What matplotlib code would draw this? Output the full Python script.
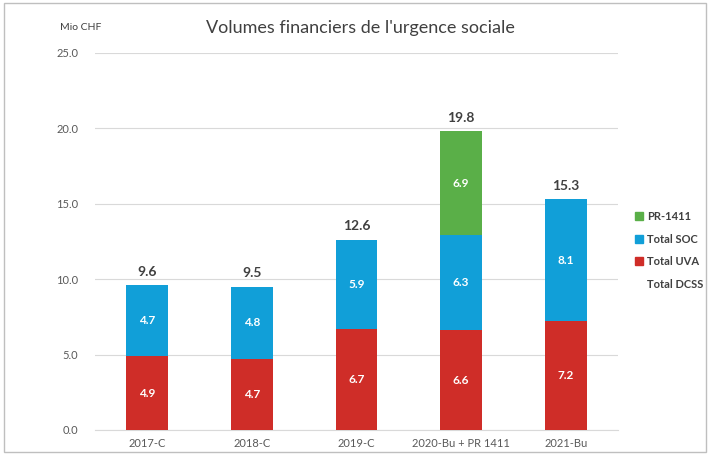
import matplotlib as mpl
import matplotlib.pyplot as plt
import numpy as np
from matplotlib.patches import Rectangle
from matplotlib.lines import Line2D

plt.rcParams['font.family'] = ['Lato', 'DejaVu Sans']

categories = ["2017-C", "2018-C", "2019-C", "2020-Bu + PR 1411", "2021-Bu"]
uva = [4.9, 4.7, 6.7, 6.6, 7.2]
soc = [4.7, 4.8, 5.9, 6.3, 8.1]
pr1411 = [0, 0, 0, 6.9, 0]
totals = [9.6, 9.5, 12.6, 19.8, 15.3]
yticks = [0, 5, 10, 15, 20, 25]

c_uva = "#cf2d28"
c_soc = "#119fd8"
c_pr = "#5aaf48"
txt = "#404040"

fig = plt.figure(figsize=(7.1, 4.55), dpi=100)
fig.patch.set_facecolor("white")
fig.patches.append(Rectangle((4 / 710, 3 / 455), 702 / 710, 449 / 455, transform=fig.transFigure,
                             fill=False, edgecolor="#bfbfbf", linewidth=1))
ax = fig.add_axes([95 / 710, 25 / 455, 523 / 710, 377 / 455])

x = np.arange(len(categories))
w = 0.4
ax.bar(x, uva, w, color=c_uva, zorder=3)
ax.bar(x, soc, w, bottom=uva, color=c_soc, zorder=3)
bottom2 = np.array(uva) + np.array(soc)
ax.bar(x, pr1411, w, bottom=bottom2, color=c_pr, zorder=3)

for i in range(len(x)):
    ax.text(x[i], uva[i] / 2, f"{uva[i]:.1f}", ha="center", va="center", color="white",
            fontsize=8.5, fontweight="bold", zorder=4)
    ax.text(x[i], uva[i] + soc[i] / 2, f"{soc[i]:.1f}", ha="center", va="center", color="white",
            fontsize=8.5, fontweight="bold", zorder=4)
    if pr1411[i] > 0:
        ax.text(x[i], bottom2[i] + pr1411[i] / 2, f"{pr1411[i]:.1f}", ha="center", va="center",
                color="white", fontsize=8.5, fontweight="bold", zorder=4)
    ax.text(x[i], totals[i] + 0.5, f"{totals[i]:.1f}", ha="center", va="bottom", color=txt,
            fontsize=10, fontweight="bold")

ax.set_xlim(-0.5, len(x) - 0.5)
ax.set_ylim(0, 25)
ax.set_yticks(yticks)
ax.set_yticklabels([f"{v:.1f}" for v in yticks])
ax.set_xticks(x)
ax.set_xticklabels(categories)
ax.tick_params(axis="both", length=0, colors="#595959", labelsize=8)
ax.tick_params(axis="y", pad=12)
ax.tick_params(axis="x", pad=6)
ax.grid(axis="y", color="#d9d9d9", linewidth=0.8, zorder=0)
for s in ["top", "right", "left"]:
    ax.spines[s].set_visible(False)
ax.spines["bottom"].set_color("#d9d9d9")

fig.text(360 / 710, 1 - 28 / 455, "Volumes financiers de l'urgence sociale", ha="center", va="center",
         fontsize=13, color=txt)
fig.text(60 / 710, 1 - 28 / 455, "Mio CHF", ha="left", va="center", fontsize=7.5, color="#404040")

handles = [Line2D([], [], marker="s", color=c, linestyle="none", markersize=6) for c in [c_pr, c_soc, c_uva]]
handles.append(Line2D([], [], linestyle="none"))
leg = fig.legend(handles, ["PR-1411", "Total SOC", "Total UVA", "Total DCSS"], loc="upper left",
                 bbox_to_anchor=(625 / 710, 1 - 201 / 455), frameon=False, handlelength=0.8,
                 handletextpad=0.3, labelspacing=1.05, prop={"size": 8, "weight": "bold"})
for t in leg.get_texts():
    t.set_color(txt)

plt.savefig("out.png", dpi=100)
